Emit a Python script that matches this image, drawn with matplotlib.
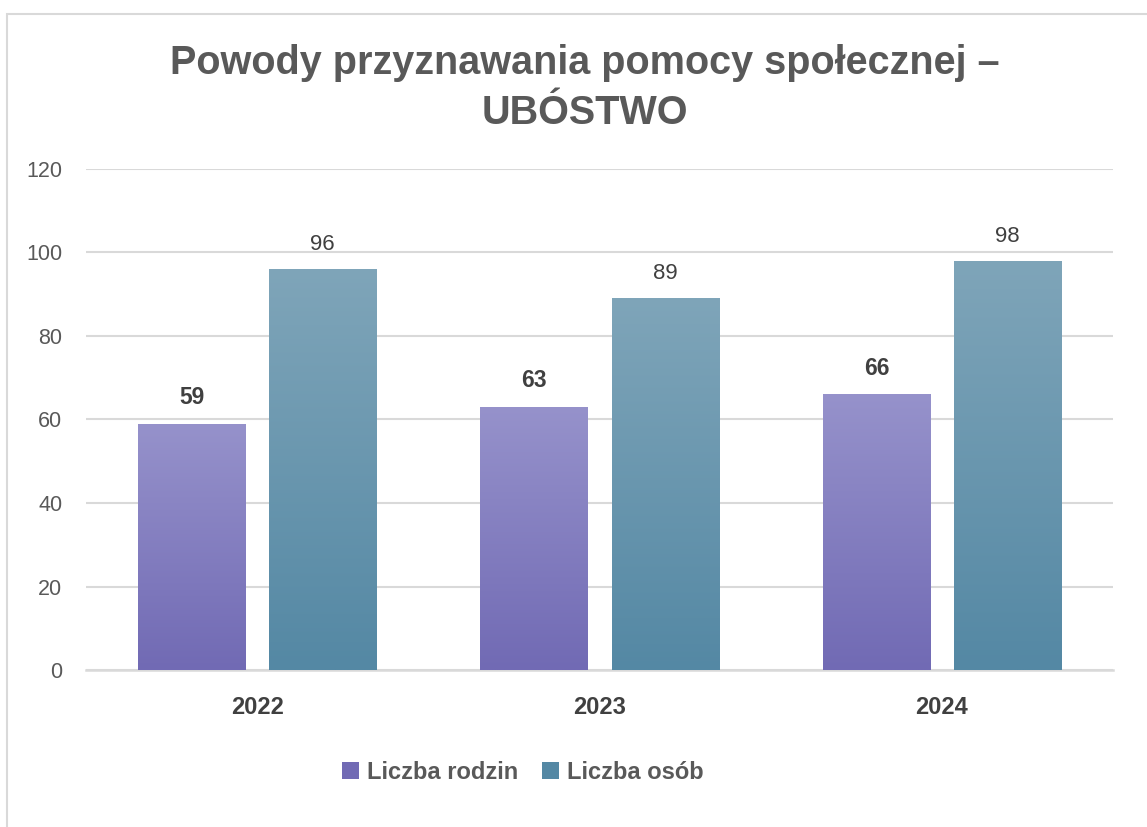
import numpy as np
import matplotlib.pyplot as plt
from matplotlib.patches import Rectangle, Patch
from matplotlib.colors import LinearSegmentedColormap
import matplotlib.patheffects as pe

plt.rcParams['font.family'] = ['Liberation Sans', 'DejaVu Sans']

years = ['2022', '2023', '2024']
rodziny = [59, 63, 66]
osoby = [96, 89, 98]
series_names = ['Liczba rodzin', 'Liczba osób']
yticks = [0, 20, 40, 60, 80, 100, 120]

purple_top, purple_bot = '#9692CB', '#716AB4'
teal_top, teal_bot = '#7FA5B9', '#5488A4'
grey_text = '#595959'
grid_col = '#D9D9D9'

fig = plt.figure(figsize=(11.47, 8.27), dpi=100)
ax = fig.add_axes([0.075, 0.1898, 0.8955, 0.6059])

x = np.arange(len(years))
w = 0.313
off = 0.1915

shadow = [pe.SimplePatchShadow(offset=(0, -1.5), shadow_rgbFace='#888888', alpha=0.35), pe.Normal()]
b1 = ax.bar(x - off, rodziny, width=w, color=purple_bot, zorder=3, path_effects=shadow)
b2 = ax.bar(x + off, osoby, width=w, color=teal_bot, zorder=3, path_effects=shadow)

# vertical gradient inside each bar
grad = np.linspace(0, 1, 256).reshape(-1, 1)
for bars, top, bot in [(b1, purple_top, purple_bot), (b2, teal_top, teal_bot)]:
    cmap = LinearSegmentedColormap.from_list('g', [bot, top])
    for r in bars:
        x0, y0 = r.get_x(), r.get_y()
        im = ax.imshow(grad, cmap=cmap, aspect='auto', origin='lower',
                       extent=[x0, x0 + r.get_width(), y0, y0 + r.get_height()], zorder=4)
        im.set_clip_path(r)

for r, v in zip(b1, rodziny):
    ax.text(r.get_x() + r.get_width() / 2, v + 3.5, str(v), ha='center', va='bottom',
            fontsize=16.5, fontweight='bold', color='#404040')
for r, v in zip(b2, osoby):
    ax.text(r.get_x() + r.get_width() / 2, v + 3.4, str(v), ha='center', va='bottom',
            fontsize=16, color='#404040')

ax.set_xlim(-0.5, 2.5)
ax.set_ylim(0, 120)
ax.set_yticks(yticks)
ax.set_xticks(x)
ax.set_xticklabels(years, fontsize=17, fontweight='bold', color='#404040')
ax.tick_params(axis='y', labelsize=15.5, labelcolor=grey_text, length=0, pad=17)
ax.tick_params(axis='x', length=0, pad=19)
ax.grid(axis='y', color=grid_col, linewidth=1.5, zorder=0)
for s in ['top', 'right', 'left']:
    ax.spines[s].set_visible(False)
ax.spines['bottom'].set_color(grid_col)
ax.spines['bottom'].set_linewidth(1.8)

fig.text(0.51, 0.893, 'Powody przyznawania pomocy społecznej –\nUBÓSTWO', ha='center', va='center',
         fontsize=28.5, fontweight='bold', color=grey_text, linespacing=1.4)

handles = [Patch(facecolor=purple_bot, edgecolor='none'), Patch(facecolor=teal_bot, edgecolor='none')]
fig.legend(handles, series_names, loc='center', bbox_to_anchor=(0.456, 0.0665), ncol=2, frameon=False,
           prop={'size': 17, 'weight': 'bold'}, labelcolor=grey_text, handlelength=0.7, handleheight=0.7,
           handletextpad=0.35, columnspacing=1.0)

# outer frame (chart border cut at right/bottom)
fig.add_artist(Rectangle((7.5 / 1147, -0.05), 1.2, 1 - 13.5 / 827 + 0.05, transform=fig.transFigure,
                         fill=False, edgecolor=grid_col, linewidth=1.5))

fig.savefig('out.png', dpi=100)
